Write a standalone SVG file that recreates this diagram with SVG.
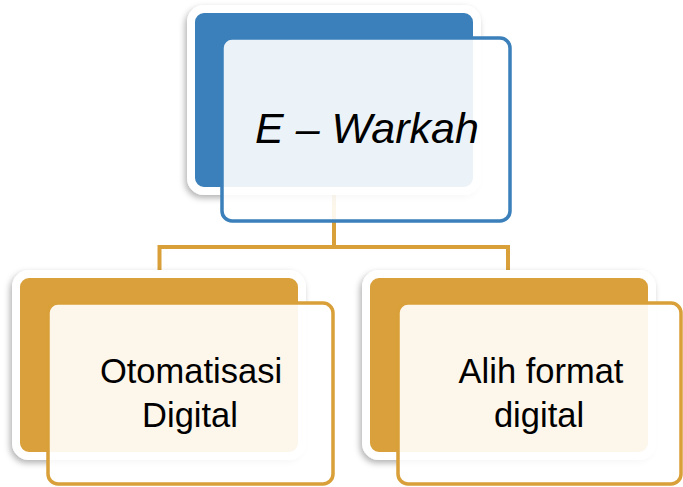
<svg xmlns="http://www.w3.org/2000/svg" width="683" height="487" viewBox="0 0 683 487">
<defs>
<filter id="sh" x="-20%" y="-20%" width="140%" height="140%">
<feDropShadow dx="-2" dy="3" stdDeviation="3" flood-color="#000" flood-opacity="0.3"/>
</filter>
</defs>
<style>
.conn{fill:none;stroke:#D9A03A;stroke-width:4}
.backB{fill:#3B80BA;stroke:#fff;stroke-width:8;filter:url(#sh)}
.backO{fill:#D9A03A;stroke:#fff;stroke-width:8;filter:url(#sh)}
.frontB{fill:#fff;fill-opacity:0.9;stroke:#3B80BA;stroke-width:3.5}
.frontO{fill:#fff;fill-opacity:0.9;stroke:#D9A03A;stroke-width:3.5}
.t{font-family:"Liberation Sans",Arial,sans-serif;fill:#000;text-anchor:middle}
</style>
<rect width="683" height="487" fill="#fff"/>
<g id="connectors">
<path class="conn" d="M334 187 V247 M159.5 270 V247 H508 V270"/>
</g>
<g id="node-ewarkah">
<rect class="backB" x="191" y="9" width="286" height="182" rx="13"/>
<rect class="frontB" x="222" y="38" width="288" height="183" rx="10"/>
<text class="t" x="367" y="143" font-size="43" font-style="italic">E – Warkah</text>
</g>
<g id="node-otomatisasi">
<rect class="backO" x="16" y="274" width="286" height="182" rx="13"/>
<rect class="frontO" x="48" y="303" width="285" height="181" rx="10"/>
<text class="t" x="191" y="383" font-size="34.5">Otomatisasi</text>
<text class="t" x="190" y="427" font-size="34.5">Digital</text>
</g>
<g id="node-alihformat">
<rect class="backO" x="366" y="274" width="286" height="182" rx="13"/>
<rect class="frontO" x="398" y="303" width="283" height="181" rx="10"/>
<text class="t" x="541" y="383" font-size="34.5">Alih format</text>
<text class="t" x="539" y="427" font-size="34.5">digital</text>
</g>
</svg>
